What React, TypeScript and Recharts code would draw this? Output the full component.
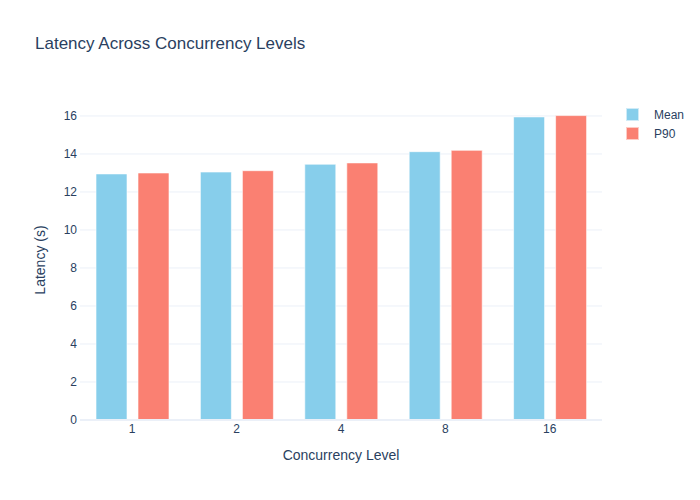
import React from 'react';
import {
  BarChart, Bar, XAxis, YAxis, CartesianGrid,
} from 'recharts';

// Concurrency levels (x categories) and latency series in seconds
const levels = ['1', '2', '4', '8', '16'];
const meanLatency = [12.95, 13.05, 13.46, 14.12, 15.95];
const p90Latency = [13.0, 13.12, 13.53, 14.19, 16.02];
const yTicks = [0, 2, 4, 6, 8, 10, 12, 14, 16];

const data = levels.map((level, i) => ({
  level,
  Mean: meanLatency[i],
  P90: p90Latency[i],
}));

const FONT = '"Liberation Sans", Arial, sans-serif';
const TEXT = '#2a3f5f';
const GRID = '#ebf0f8';

const series = [
  { key: 'Mean', color: '#87CEEB' },
  { key: 'P90', color: '#FA8072' },
];

// legend drawn beside the plot, like plotly's default
const LegendBox = () => (
  <div style={{ position: 'absolute', top: 105, left: 626, fontSize: 12, color: TEXT }}>
    {series.map((s) => (
      <div key={s.key} style={{ display: 'flex', alignItems: 'center', height: 19 }}>
        <span
          style={{
            display: 'inline-block', width: 11, height: 11, background: s.color,
            border: '0.5px solid rgba(255,255,255,0.6)', marginRight: 15,
          }}
        />
        {s.key}
      </div>
    ))}
  </div>
);

const App: React.FC = () => {
  return (
    <div style={{ position: 'absolute', left: 0, top: 0, width: 700, height: 500, background: '#fff', fontFamily: FONT }}>
      <div style={{ position: 'absolute', left: 35, top: 34, fontSize: 17, color: TEXT, lineHeight: '20px' }}>
        Latency Across Concurrency Levels
      </div>
      <BarChart
        width={700}
        height={500}
        data={data}
        margin={{ top: 100, right: 98, left: 0, bottom: 0 }}
        barSize={31}
        barGap={11}
      >
        <CartesianGrid horizontal vertical={false} horizontalValues={yTicks} stroke={GRID} strokeWidth={1} />
        <XAxis
          dataKey="level"
          height={80}
          tick={{ fontSize: 12, fill: TEXT, fontFamily: FONT }}
          tickLine={false}
          tickSize={4}
          tickMargin={0}
          axisLine={{ stroke: GRID, strokeWidth: 2 }}
          label={{
            value: 'Concurrency Level', position: 'insideBottom', offset: 40,
            style: { fontSize: 14, fill: TEXT, fontFamily: FONT },
          }}
        />
        <YAxis
          width={80}
          domain={[0, 16.84]}
          ticks={yTicks}
          tick={{ fontSize: 12, fill: TEXT, fontFamily: FONT }}
          tickLine={false}
          tickSize={3}
          tickMargin={0}
          axisLine={false}
          label={{
            value: 'Latency (s)', angle: -90, position: 'insideLeft', offset: 40,
            style: { textAnchor: 'middle', fontSize: 14, fill: TEXT, fontFamily: FONT },
          }}
        />
        {series.map((s) => (
          <Bar
            key={s.key}
            dataKey={s.key}
            fill={s.color}
            stroke="#ffffff"
            strokeOpacity={0.6}
            strokeWidth={1}
            isAnimationActive={false}
          />
        ))}
      </BarChart>
      <LegendBox />
    </div>
  );
};

export default App;
